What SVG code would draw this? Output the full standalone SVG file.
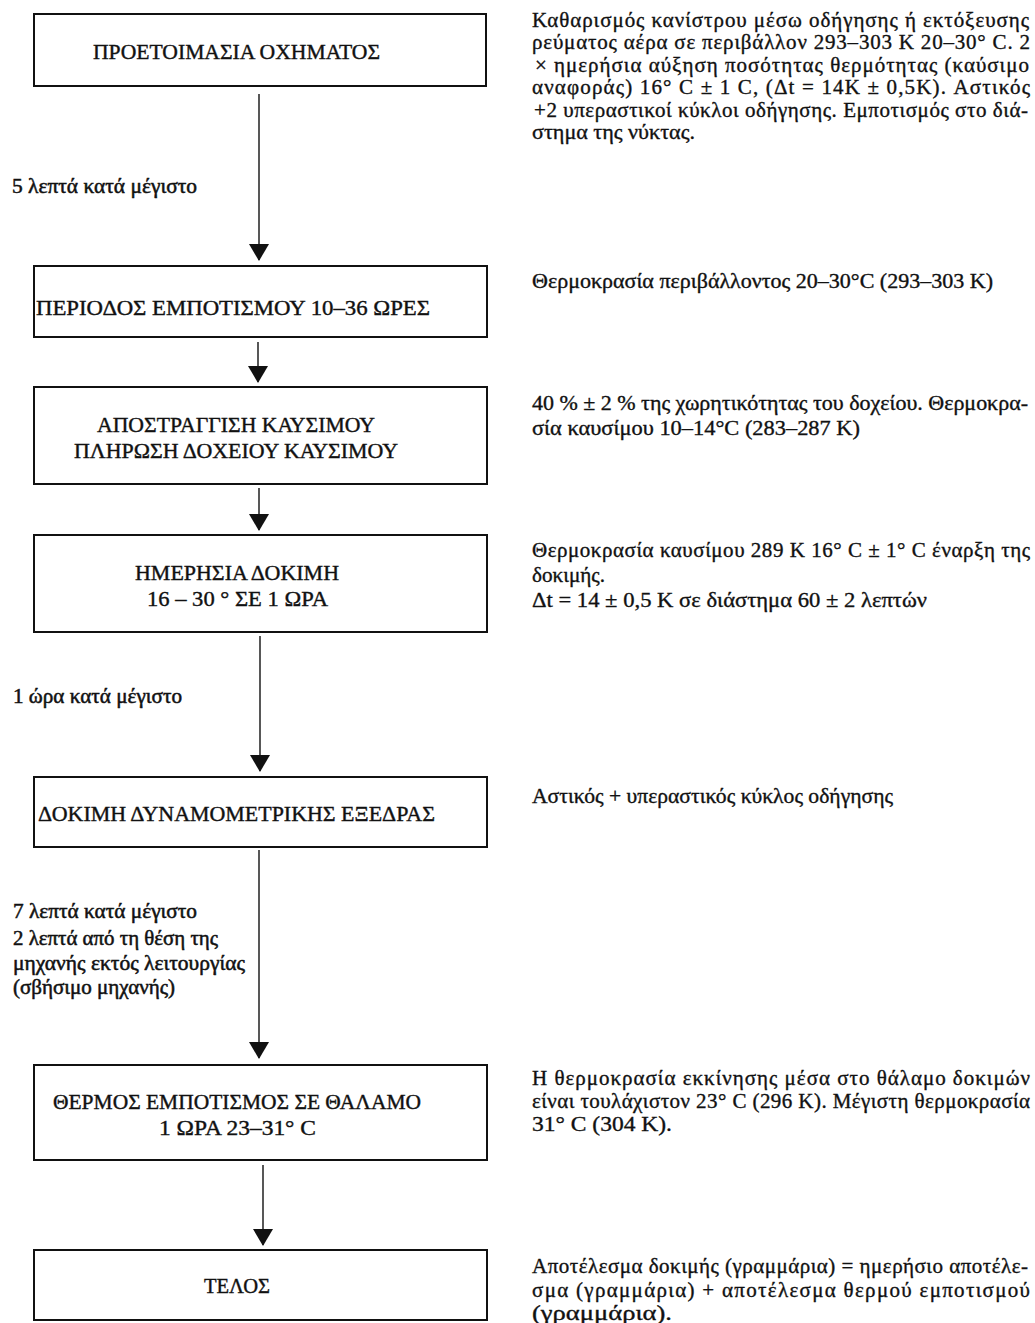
<svg xmlns="http://www.w3.org/2000/svg" width="1035" height="1323" viewBox="0 0 1035 1323">
<style>
  .box { fill: #fff; stroke: #111; stroke-width: 2; }
  .t { font-family: "Liberation Serif", "Times New Roman", serif; font-size: 22px; fill: #111; stroke: #111; stroke-width: 0.4; }
  .lab { font-family: "Liberation Serif", "Times New Roman", serif; font-size: 20px; fill: #111; stroke: #111; stroke-width: 0.5; }
  .note { font-family: "Liberation Serif", "Times New Roman", serif; font-size: 21px; fill: #111; stroke: #111; stroke-width: 0.35; }
  .conn { stroke: #111; stroke-width: 1.4; fill: none; marker-end: url(#ah); }
</style>
<defs>
  <marker id="ah" viewBox="0 -10 17 20" markerWidth="17" markerHeight="20" refX="16" refY="0" orient="auto" markerUnits="userSpaceOnUse">
    <path d="M0,-10 L17,0 L0,10 Z" fill="#111"/>
  </marker>
</defs>
<rect width="1035" height="1323" fill="#fff"/>

<g id="connectors">
  <line class="conn" x1="259" y1="94" x2="259" y2="260"/>
  <line class="conn" x1="258" y1="342" x2="258" y2="382"/>
  <line class="conn" x1="259" y1="488" x2="259" y2="530"/>
  <line class="conn" x1="260" y1="636" x2="260" y2="771"/>
  <line class="conn" x1="259" y1="850" x2="259" y2="1058"/>
  <line class="conn" x1="263" y1="1165" x2="263" y2="1245"/>
</g>

<g id="node1">
  <rect class="box" x="34" y="14" width="452" height="72"/>
  <text class="t" x="93" y="59" textLength="287" lengthAdjust="spacingAndGlyphs">ΠΡΟΕΤΟΙΜΑΣΙΑ  ΟΧΗΜΑΤΟΣ</text>
</g>
<g id="node2">
  <rect class="box" x="34" y="266" width="453" height="71"/>
  <text class="t" x="36" y="315" textLength="394" lengthAdjust="spacingAndGlyphs">ΠΕΡΙΟΔΟΣ  ΕΜΠΟΤΙΣΜΟΥ  10–36  ΩΡΕΣ</text>
</g>
<g id="node3">
  <rect class="box" x="34" y="387" width="453" height="97"/>
  <text class="t" x="97" y="432" textLength="278" lengthAdjust="spacingAndGlyphs">ΑΠΟΣΤΡΑΓΓΙΣΗ  ΚΑΥΣΙΜΟΥ</text>
  <text class="t" x="74" y="458" textLength="324" lengthAdjust="spacingAndGlyphs">ΠΛΗΡΩΣΗ  ΔΟΧΕΙΟΥ  ΚΑΥΣΙΜΟΥ</text>
</g>
<g id="node4">
  <rect class="box" x="34" y="535" width="453" height="97"/>
  <text class="t" x="135" y="580" textLength="204" lengthAdjust="spacingAndGlyphs">ΗΜΕΡΗΣΙΑ  ΔΟΚΙΜΗ</text>
  <text class="t" x="147" y="606" textLength="181" lengthAdjust="spacingAndGlyphs">16 – 30 ° ΣΕ 1  ΩΡΑ</text>
</g>
<g id="node5">
  <rect class="box" x="34" y="777" width="453" height="70"/>
  <text class="t" x="38" y="821" textLength="397" lengthAdjust="spacingAndGlyphs">ΔΟΚΙΜΗ  ΔΥΝΑΜΟΜΕΤΡΙΚΗΣ  ΕΞΕΔΡΑΣ</text>
</g>
<g id="node6">
  <rect class="box" x="34" y="1065" width="453" height="95"/>
  <text class="t" x="53" y="1109" textLength="368" lengthAdjust="spacingAndGlyphs">ΘΕΡΜΟΣ  ΕΜΠΟΤΙΣΜΟΣ  ΣΕ ΘΑΛΑΜΟ</text>
  <text class="t" x="159" y="1135" textLength="157" lengthAdjust="spacingAndGlyphs">1  ΩΡΑ  23–31° C</text>
</g>
<g id="node7">
  <rect class="box" x="34" y="1250" width="453" height="70"/>
  <text class="t" x="204" y="1293" textLength="66" lengthAdjust="spacingAndGlyphs">ΤΕΛΟΣ</text>
</g>

<g id="labels">
  <text class="lab" x="12" y="193" textLength="185" lengthAdjust="spacingAndGlyphs">5 λεπτά κατά μέγιστο</text>
  <text class="lab" x="13" y="703" textLength="169" lengthAdjust="spacingAndGlyphs">1 ώρα κατά μέγιστο</text>
  <text class="lab" x="13" y="918" textLength="184" lengthAdjust="spacingAndGlyphs">7 λεπτά κατά μέγιστο</text>
  <text class="lab" x="13" y="945" textLength="205" lengthAdjust="spacingAndGlyphs">2 λεπτά από τη θέση της</text>
  <text class="lab" x="13" y="970" textLength="232" lengthAdjust="spacingAndGlyphs">μηχανής εκτός λειτουργίας</text>
  <text class="lab" x="13" y="994" textLength="162" lengthAdjust="spacingAndGlyphs">(σβήσιμο μηχανής)</text>
</g>

<g id="notes">
  <text class="note" x="532" y="27" textLength="497" lengthAdjust="spacing">Καθαρισμός κανίστρου μέσω οδήγησης ή εκτόξευσης</text>
  <text class="note" x="532" y="49" textLength="498" lengthAdjust="spacing">ρεύματος αέρα σε περιβάλλον 293–303 K 20–30° C. 2</text>
  <text class="note" x="535" y="72" textLength="494" lengthAdjust="spacing">× ημερήσια αύξηση ποσότητας θερμότητας (καύσιμο</text>
  <text class="note" x="532" y="94" textLength="498" lengthAdjust="spacing">αναφοράς) 16° C ± 1 C, (Δt = 14K ± 0,5K). Αστικός</text>
  <text class="note" x="534" y="117" textLength="494" lengthAdjust="spacing">+2 υπεραστικοί κύκλοι οδήγησης. Εμποτισμός στο διά-</text>
  <text class="note" x="532" y="139" textLength="163" lengthAdjust="spacingAndGlyphs">στημα της νύκτας.</text>

  <text class="note" x="532" y="288" textLength="461" lengthAdjust="spacingAndGlyphs">Θερμοκρασία περιβάλλοντος 20–30°C (293–303 K)</text>

  <text class="note" x="532" y="410" textLength="496" lengthAdjust="spacingAndGlyphs">40 % ± 2 % της χωρητικότητας του δοχείου. Θερμοκρα-</text>
  <text class="note" x="532" y="435" textLength="328" lengthAdjust="spacingAndGlyphs">σία καυσίμου 10–14°C (283–287 K)</text>

  <text class="note" x="532" y="557" textLength="498" lengthAdjust="spacing">Θερμοκρασία καυσίμου 289 K 16° C ± 1° C έναρξη της</text>
  <text class="note" x="532" y="582" textLength="73" lengthAdjust="spacingAndGlyphs">δοκιμής.</text>
  <text class="note" x="532" y="607" textLength="395" lengthAdjust="spacingAndGlyphs">Δt = 14 ± 0,5 K σε διάστημα 60 ± 2 λεπτών</text>

  <text class="note" x="532" y="803" textLength="361" lengthAdjust="spacingAndGlyphs">Αστικός + υπεραστικός κύκλος οδήγησης</text>

  <text class="note" x="532" y="1085" textLength="498" lengthAdjust="spacing">Η θερμοκρασία εκκίνησης μέσα στο θάλαμο δοκιμών</text>
  <text class="note" x="532" y="1108" textLength="498" lengthAdjust="spacing">είναι τουλάχιστον 23° C (296 K). Μέγιστη θερμοκρασία</text>
  <text class="note" x="532" y="1131" textLength="140" lengthAdjust="spacingAndGlyphs">31° C (304 K).</text>

  <text class="note" x="532" y="1273" textLength="496" lengthAdjust="spacing">Αποτέλεσμα δοκιμής (γραμμάρια) = ημερήσιο αποτέλε-</text>
  <text class="note" x="532" y="1297" textLength="498" lengthAdjust="spacing">σμα (γραμμάρια) + αποτέλεσμα θερμού εμποτισμού</text>
  <text class="note" x="532" y="1320" textLength="140" lengthAdjust="spacingAndGlyphs">(γραμμάρια).</text>
</g>
</svg>
